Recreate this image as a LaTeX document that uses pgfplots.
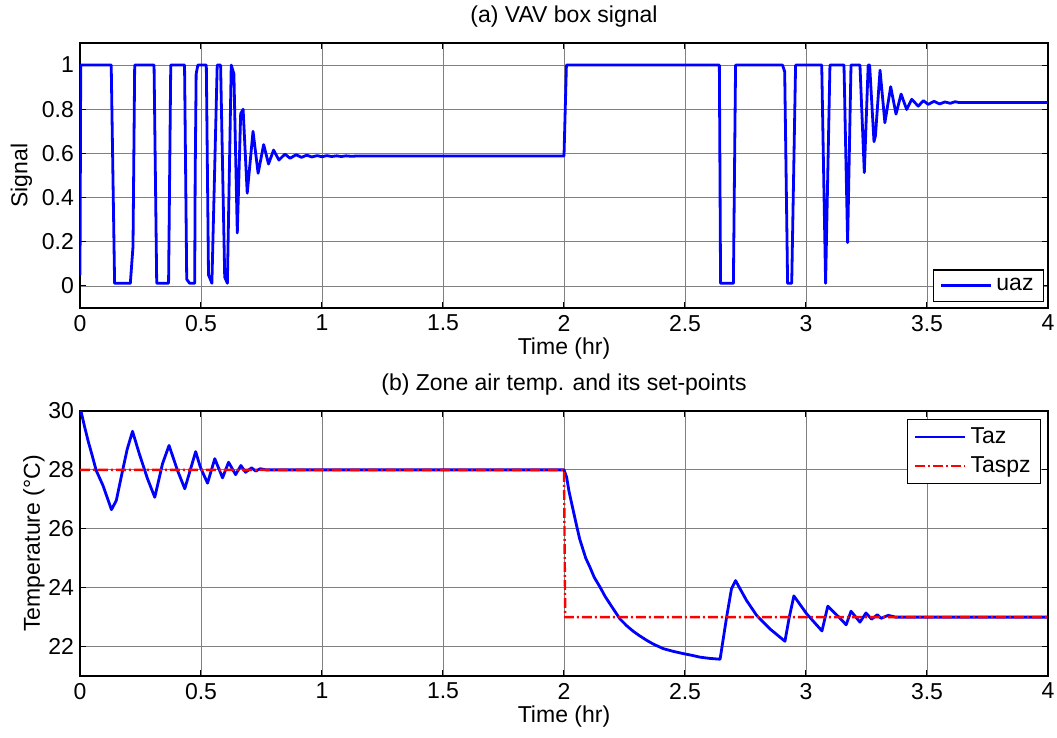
\documentclass[border=0pt]{standalone}
\usepackage{fontspec}
\setmainfont{Liberation Sans}
\usepackage{pgfplots}
\pgfplotsset{compat=1.18}
\definecolor{mblue}{RGB}{0,0,255}
\definecolor{mred}{RGB}{255,0,0}
\begin{document}
\begin{tikzpicture}[font=\fontsize{11.5}{13.5}\selectfont]
\path[use as bounding box] (0,0) rectangle (528.5pt,-369pt);
\pgfplotsset{
 myax/.style={
  width=484pt, height=132.5pt, scale only axis,
  xmin=0, xmax=4, xtick={0,0.5,1,1.5,2,2.5,3,3.5,4},
  tick align=inside, tick pos=both,
  major tick length=3pt,
  grid=major, major grid style={black!50, line width=0.4pt},
  axis line style={line width=0.6pt},
  every tick/.style={black, line width=0.5pt},
  /pgf/number format/assume math mode=true,
  ticklabel style={font=\fontsize{11.5}{13.5}\selectfont},
  label style={font=\fontsize{11.5}{13.5}\selectfont},
  title style={font=\fontsize{11.5}{13.5}\selectfont, yshift=-1.5pt},
  xlabel={Time (hr)},
  xlabel style={yshift=3.5pt},
  yticklabel style={xshift=0.5pt},
  legend cell align=left,
  legend image code/.code={\draw[##1] (0pt,0pt) -- (25pt,0pt);},
 }
}
\begin{axis}[myax,
  at={(40pt,-154pt)}, anchor=south west,
  ymin=-0.1, ymax=1.1, ytick={0,0.2,0.4,0.6,0.8,1},
  ylabel={Signal},
  ylabel style={yshift=-2pt},
  title={(a) VAV box signal},
  legend style={at={(0.996,0.023)}, anchor=south east, draw=black, line width=0.6pt,
    inner xsep=3pt, inner ysep=2pt, font=\fontsize{11.5}{13.5}\selectfont},
]
\addplot[mblue, line width=1.4pt, line join=round] coordinates {
(0,0.05) (0.003,1) (0.129,1) (0.143,0.012) (0.208,0.012) (0.219,0.178) (0.226,1)
(0.306,1) (0.317,0.012) (0.366,0.012) (0.375,1) (0.432,1) (0.441,0.03) (0.453,0.012)
(0.474,0.012) (0.476,0.5) (0.480,0.96) (0.487,1) (0.522,1) (0.531,0.05) (0.545,0.012)
(0.567,1) (0.581,1) (0.598,0.04) (0.609,0.012) (0.625,1) (0.636,0.96) (0.650,0.24)
(0.664,0.78) (0.674,0.80) (0.691,0.42) (0.715,0.70) (0.736,0.51) (0.759,0.64)
(0.779,0.552) (0.800,0.615) (0.822,0.570) (0.847,0.597) (0.868,0.578) (0.893,0.594)
(0.915,0.582) (0.937,0.592) (0.958,0.584) (0.98,0.590) (1.0,0.585) (1.02,0.590)
(1.04,0.586) (1.06,0.589) (1.08,0.586) (1.10,0.589) (1.12,0.587) (1.14,0.588)
(2.0,0.588) (2.01,1) (2.642,1) (2.647,0.012) (2.700,0.012) (2.709,1) (2.903,1)
(2.912,0.97) (2.924,0.012) (2.941,0.012) (2.957,1) (3.065,1) (3.081,0.012) (3.099,1)
(3.157,1) (3.172,0.196) (3.186,1) (3.223,1) (3.241,0.513) (3.257,1) (3.263,1)
(3.281,0.653) (3.287,0.68) (3.306,0.977) (3.326,0.739) (3.350,0.902) (3.372,0.778)
(3.393,0.869) (3.416,0.799) (3.437,0.845) (3.464,0.814) (3.485,0.839) (3.505,0.822)
(3.529,0.836) (3.552,0.824) (3.574,0.833) (3.596,0.827) (3.616,0.834) (3.63,0.831)
(4,0.831)
};
\addlegendentry{uaz}
\end{axis}
\begin{axis}[myax,
  at={(40pt,-338pt)}, anchor=south west,
  ymin=21, ymax=30, ytick={22,24,26,28,30},
  ylabel={Temperature (°C)},
  ylabel style={yshift=-5pt},
  title={(b) Zone air temp. and its set-points},
  legend style={at={(0.993,0.97)}, anchor=north east, draw=black, line width=0.6pt,
    inner xsep=3pt, inner ysep=2pt, row sep=1pt, font=\fontsize{11.5}{13.5}\selectfont},
]
\addplot[mblue, line width=1.4pt, line join=round] coordinates {
(0,30) (0.005,29.96) (0.018,29.5) (0.033,29.0) (0.05,28.5) (0.067,27.98) (0.095,27.47) (0.13,26.65)
(0.150,26.96) (0.176,27.98) (0.195,28.7) (0.217,29.31) (0.245,28.55) (0.279,27.70) (0.309,27.07)
(0.341,28.21) (0.368,28.83) (0.403,27.98) (0.433,27.36) (0.478,28.62) (0.497,28.1)
(0.527,27.55) (0.557,28.38) (0.589,27.73) (0.614,28.26) (0.643,27.84) (0.665,28.15)
(0.684,27.92) (0.709,28.07) (0.726,27.96) (0.745,28.04) (0.77,28.0) (2.0,28.0)
(2.011,27.75) (2.02,27.3) (2.032,26.85) (2.052,26.11) (2.065,25.65) (2.080,25.26) (2.09,25.0)
(2.107,24.70) (2.125,24.35) (2.149,24.02) (2.17,23.7) (2.190,23.45) (2.21,23.2) (2.231,22.94)
(2.26,22.7) (2.286,22.52) (2.31,22.38) (2.342,22.21) (2.37,22.08) (2.410,21.93) (2.45,21.84)
(2.493,21.76) (2.53,21.7) (2.562,21.64) (2.6,21.6) (2.645,21.57) (2.672,23.0) (2.692,23.96)
(2.709,24.24) (2.754,23.57) (2.796,23.06) (2.851,22.60) (2.913,22.18) (2.931,23.0) (2.950,23.72)
(3.003,23.11) (3.066,22.53) (3.090,23.37) (3.136,23.0) (3.166,22.74) (3.186,23.20) (3.223,22.83)
(3.248,23.14) (3.271,22.93) (3.295,23.08) (3.31,22.96) (3.34,23.06) (3.37,23.0) (4,23.0)
};
\addlegendentry{Taz}
\addplot[mred, line width=1.2pt, dash pattern=on 5pt off 1.5pt on 1pt off 1.5pt] coordinates {
(0,28) (2.0,28) (2.005,23) (4,23)
};
\addlegendentry{Taspz}
\end{axis}
\end{tikzpicture}
\end{document}
